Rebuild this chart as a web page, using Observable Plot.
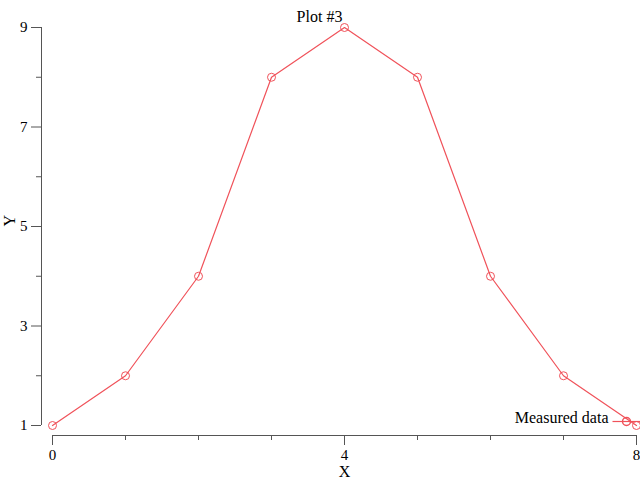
<!DOCTYPE html>
<html>
<head>
<meta charset="utf-8">
<script src="https://cdn.jsdelivr.net/npm/d3@7"></script>
<script src="https://cdn.jsdelivr.net/npm/@observablehq/plot@0.6"></script>
<style>
  html, body { margin: 0; padding: 0; background: #fff; }
</style>
</head>
<body>
<div id="chart"></div>
<script>
const xValues = [0, 1, 2, 3, 4, 5, 6, 7, 8];
const yValues = [1, 2, 4, 8, 9, 8, 4, 2, 1];
const xMajorTicks = [0, 4, 8];
const xMinorTicks = [1, 2, 3, 5, 6, 7];
const yMajorTicks = [1, 3, 5, 7, 9];
const yMinorTicks = [2, 4, 6, 8];
const title = "Plot #3";
const xLabel = "X";
const yLabel = "Y";
const seriesName = "Measured data";

const data = xValues.map((x, i) => ({x, y: yValues[i]}));
const color = "#f0525a";
const axisColor = "#555";
const fmt = d3.format("d");

const legendLine = {
  draw(context) {
    context.moveTo(-14, 0);
    context.lineTo(14, 0);
  }
};

const chart = Plot.plot({
  width: 640,
  height: 480,
  marginLeft: 52,
  marginRight: 4,
  marginTop: 27,
  marginBottom: 55,
  x: {domain: [0, 8]},
  y: {domain: [1, 9]},
  style: {fontFamily: "Liberation Serif", fontSize: "15px", background: "white", color: "black"},
  marks: [
    // y axis
    Plot.ruleX([0], {y1: 1, y2: 9, dx: -11, stroke: axisColor}),
    Plot.axisY(yMajorTicks, {tickSize: 10, dx: -11, tickPadding: 4, tickFormat: fmt, stroke: axisColor, fill: "black", fontSize: 15, label: null}),
    Plot.axisY(yMinorTicks, {tickSize: 5, dx: -11, tickFormat: () => "", stroke: axisColor, label: null}),
    // x axis
    Plot.ruleY([1], {x1: 0, x2: 8, dy: 10, stroke: axisColor}),
    Plot.axisX(xMajorTicks, {tickSize: 10, dy: 10, tickPadding: 4, tickFormat: fmt, stroke: axisColor, fill: "black", fontSize: 15, label: null}),
    Plot.axisX(xMinorTicks, {tickSize: 5, dy: 10, tickFormat: () => "", stroke: axisColor, label: null}),
    // axis labels and title
    Plot.text([xLabel], {frameAnchor: "bottom", dy: 46, lineAnchor: "middle", fontSize: 16}),
    Plot.text([yLabel], {frameAnchor: "left", dx: -43, rotate: -90, fontSize: 16}),
    Plot.text([title], {frameAnchor: "top", dx: -25, dy: -17, fontSize: 16}),
    // data
    Plot.line(data, {x: "x", y: "y", stroke: color, strokeWidth: 1.2}),
    Plot.dot(data, {x: "x", y: "y", r: 4, stroke: color, fill: "none", strokeWidth: 1}),
    // legend
    Plot.text([seriesName], {frameAnchor: "bottom-right", dx: -28, dy: -3, textAnchor: "end", fontSize: 16}),
    Plot.dot([seriesName], {frameAnchor: "bottom-right", dx: -10, dy: -4, symbol: legendLine, stroke: color, strokeWidth: 1.2}),
    Plot.dot([seriesName], {frameAnchor: "bottom-right", dx: -10, dy: -4, r: 4, stroke: color, fill: "none"})
  ]
});
document.getElementById("chart").appendChild(chart);
</script>
</body>
</html>
